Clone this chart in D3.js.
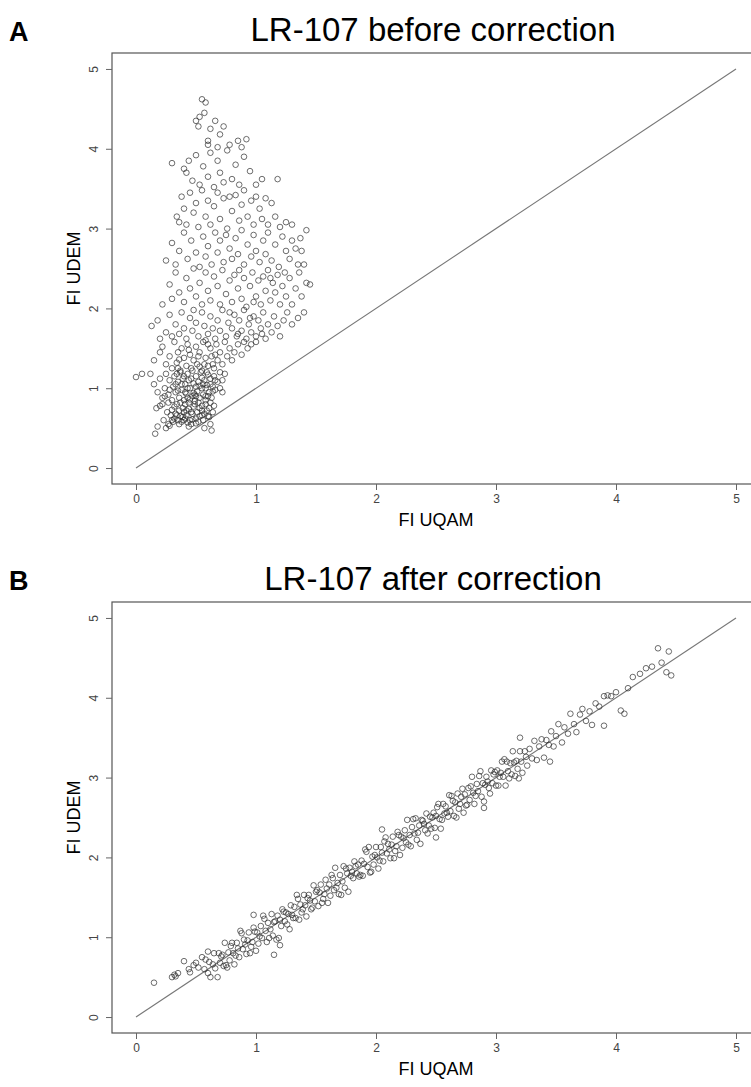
<!DOCTYPE html>
<html>
<head>
<meta charset="utf-8">
<script src="https://cdn.jsdelivr.net/npm/d3@7/dist/d3.min.js"></script>
<style>
  body { margin: 0; background: #fff; }
  svg { display: block; }
  text { font-family: "Liberation Sans", Arial, Helvetica, sans-serif; }
</style>
</head>
<body>
<svg id="chart" width="751" height="1087"></svg>
<script>
// Axis ticks shared by both panels (FI units)
const ticks = [0, 1, 2, 3, 4, 5];
const panelTitles = ["LR-107 before correction", "LR-107 after correction"];
const panelLetters = ["A", "B"];
const xTitle = "FI UQAM";
const yTitle = "FI UDEM";

// Reference line y = x
const identity = [[0, 0], [5, 5]];

// [FI UQAM, FI UDEM] per sample, before correction
const before = [
  [0.16,0.43],[0.18,0.52],[0.17,0.75],[0.2,0.78],[0.22,0.8],[0.25,0.5],[0.27,0.55],[0.28,0.53],[0.3,0.6],[0.32,0.62],
  [0.33,0.68],[0.35,0.6],[0.36,0.72],[0.37,0.65],[0.38,0.58],[0.39,0.75],[0.4,0.7],[0.41,0.62],[0.42,0.66],[0.43,0.57],
  [0.44,0.74],[0.45,0.6],[0.46,0.55],[0.47,0.68],[0.48,0.77],[0.5,0.62],[0.51,0.7],[0.52,0.58],[0.53,0.75],[0.55,0.72],
  [0.56,0.6],[0.57,0.5],[0.58,0.8],[0.6,0.65],[0.61,0.75],[0.63,0.47],[0.64,0.7],[0.65,0.78],[0.34,0.8],[0.3,0.73],
  [0.26,0.7],[0.41,0.8],[0.49,0.8],[0.44,0.52],[0.36,0.55],[0.53,0.65],[0.59,0.72],[0.62,0.55],[0.29,0.66],[0.23,0.6],
  [0.39,0.64],[0.47,0.61],[0.55,0.78],[0.32,0.77],[0.42,0.72],[0.5,0.56],
  [0.31,0.58],[0.34,0.66],[0.37,0.82],[0.4,0.6],[0.43,0.88],[0.46,0.7],[0.49,0.92],[0.52,0.82],[0.55,0.66],[0.58,0.9],
  [0.61,0.64],[0.64,0.96],[0.38,1.05],[0.44,1.1],[0.5,0.9],[0.56,1.05],[0.62,0.82],[0.66,1.1],[0.35,1.25],[0.47,1.22],
  [0.53,1.27],[0.59,1.2],[0.64,1.3],[0.7,1.0],[0.72,0.95],[0.27,0.82],[0.24,0.9],[0.33,1.05],[0.41,0.95],[0.57,0.68],
  [0.0,1.14],[0.05,1.18],[0.12,1.18],[0.15,1.05],[0.18,0.95],[0.2,1.12],[0.22,0.88],[0.24,1.0],[0.25,1.18],[0.27,0.92],
  [0.28,1.1],[0.3,0.85],[0.31,1.02],[0.32,1.15],[0.33,0.95],[0.35,1.08],[0.36,0.88],[0.37,1.2],[0.38,0.98],[0.39,1.12],
  [0.4,0.85],[0.41,1.05],[0.42,0.93],[0.43,1.18],[0.44,0.82],[0.45,1.0],[0.46,1.12],[0.47,0.9],[0.48,1.06],[0.49,0.84],
  [0.5,1.15],[0.51,0.96],[0.52,1.08],[0.53,0.88],[0.54,1.2],[0.55,1.0],[0.56,0.92],[0.57,1.1],[0.58,0.85],[0.59,1.04],
  [0.6,1.17],[0.61,0.95],[0.62,1.12],[0.63,0.88],[0.64,1.02],[0.65,1.15],[0.66,0.98],[0.68,1.08],[0.7,1.2],[0.72,1.1],
  [0.74,1.18],[0.35,0.97],[0.4,1.15],[0.45,0.86],[0.5,1.02],[0.55,1.13],[0.6,0.9],[0.58,1.0],[0.62,1.05],[0.28,0.98],
  [0.34,1.18],[0.43,1.0],[0.48,0.94],[0.53,1.03],
  [0.15,1.35],[0.2,1.45],[0.22,1.52],[0.25,1.3],[0.28,1.4],[0.3,1.25],[0.32,1.58],[0.34,1.32],[0.35,1.45],[0.37,1.22],
  [0.38,1.5],[0.4,1.38],[0.42,1.28],[0.43,1.55],[0.45,1.42],[0.46,1.25],[0.48,1.35],[0.5,1.52],[0.51,1.3],[0.53,1.45],
  [0.55,1.22],[0.56,1.58],[0.58,1.38],[0.6,1.28],[0.62,1.5],[0.63,1.4],[0.65,1.25],[0.67,1.55],[0.68,1.35],[0.7,1.45],
  [0.72,1.3],[0.74,1.58],[0.76,1.4],[0.78,1.5],[0.8,1.35],[0.82,1.45],[0.85,1.55],[0.88,1.42],[0.9,1.58],[0.93,1.5],
  [0.96,1.55],[1.0,1.58],[0.52,1.4],[0.6,1.55],[0.66,1.42],[0.44,1.48],[0.36,1.36],[0.57,1.3],
  [0.13,1.78],[0.18,1.85],[0.2,1.62],[0.25,1.7],[0.28,1.92],[0.3,1.65],[0.33,1.8],[0.36,1.68],[0.38,1.95],[0.4,1.75],
  [0.42,1.62],[0.45,1.88],[0.47,1.72],[0.5,1.82],[0.52,1.65],[0.55,1.95],[0.57,1.78],[0.6,1.68],[0.62,1.9],[0.64,1.75],
  [0.66,1.62],[0.68,1.85],[0.7,1.72],[0.72,1.98],[0.75,1.65],[0.77,1.82],[0.8,1.75],[0.82,1.92],[0.84,1.65],[0.86,1.85],
  [0.88,1.72],[0.9,1.98],[0.92,1.62],[0.94,1.8],[0.96,1.7],[0.98,1.9],[1.0,1.65],[1.02,1.85],[1.04,1.75],[1.06,1.95],
  [1.08,1.62],[1.1,1.8],[1.13,1.7],[1.15,1.9],[1.18,1.78],[1.2,1.65],[1.23,1.85],[1.26,1.95],[1.3,1.8],[1.35,1.88],
  [1.4,1.95],[0.85,1.68],[0.95,1.88],[1.05,1.68],[0.78,1.95],[0.58,1.6],[0.48,1.98],
  [0.22,2.05],[0.28,2.3],[0.3,2.12],[0.33,2.45],[0.36,2.2],[0.4,2.08],[0.42,2.38],[0.45,2.25],[0.48,2.5],[0.5,2.15],
  [0.53,2.32],[0.55,2.05],[0.58,2.45],[0.6,2.22],[0.62,2.1],[0.65,2.4],[0.68,2.28],[0.7,2.05],[0.72,2.48],[0.75,2.18],
  [0.78,2.35],[0.8,2.08],[0.82,2.42],[0.85,2.25],[0.88,2.12],[0.9,2.38],[0.92,2.02],[0.95,2.28],[0.97,2.45],[1.0,2.15],
  [1.02,2.35],[1.04,2.05],[1.06,2.4],[1.08,2.22],[1.1,2.48],[1.12,2.1],[1.14,2.32],[1.16,2.2],[1.18,2.42],[1.2,2.05],
  [1.22,2.28],[1.25,2.15],[1.28,2.38],[1.3,2.05],[1.33,2.25],[1.36,2.45],[1.38,2.15],[1.42,2.32],[1.45,2.3],[1.12,2.38],
  [0.98,2.08],[0.86,2.48],[1.24,2.45],
  [0.25,2.6],[0.3,2.82],[0.33,2.55],[0.36,2.72],[0.4,2.95],[0.43,2.62],[0.46,2.85],[0.5,2.7],[0.53,2.52],[0.56,2.9],
  [0.58,2.65],[0.6,2.78],[0.63,2.55],[0.66,2.95],[0.68,2.7],[0.7,2.85],[0.73,2.58],[0.75,2.92],[0.78,2.75],[0.8,2.62],
  [0.83,2.88],[0.85,2.68],[0.88,2.98],[0.9,2.55],[0.93,2.8],[0.96,2.65],[0.98,2.92],[1.0,2.72],[1.03,2.58],[1.06,2.85],
  [1.08,2.68],[1.1,2.95],[1.13,2.6],[1.16,2.8],[1.19,2.52],[1.22,2.9],[1.25,2.72],[1.28,2.62],[1.3,2.85],[1.33,2.75],
  [1.35,2.55],[1.37,2.88],[1.4,2.55],[1.42,2.98],[1.38,2.72],
  [0.34,3.15],[0.36,3.08],[0.38,3.4],[0.4,3.25],[0.42,3.05],[0.45,3.45],[0.48,3.2],[0.5,3.32],[0.52,3.02],[0.55,3.48],
  [0.58,3.15],[0.6,3.35],[0.62,3.05],[0.65,3.28],[0.68,3.45],[0.7,3.12],[0.73,3.38],[0.76,3.0],[0.8,3.22],[0.83,3.42],
  [0.86,3.1],[0.88,3.3],[0.9,3.48],[0.93,3.15],[0.96,3.35],[0.98,3.05],[1.0,3.4],[1.03,3.25],[1.05,3.12],[1.08,3.38],
  [1.1,3.05],[1.13,3.32],[1.16,3.15],[1.2,3.02],[1.25,3.08],[1.3,3.05],[0.78,3.4],
  [0.3,3.82],[0.4,3.75],[0.42,3.7],[0.44,3.85],[0.47,3.6],[0.5,3.92],[0.53,3.55],[0.56,3.78],[0.6,3.65],[0.62,3.95],
  [0.65,3.52],[0.68,3.85],[0.7,3.7],[0.73,3.58],[0.76,3.98],[0.8,3.62],[0.83,3.8],[0.86,3.55],[0.9,3.9],[0.95,3.72],
  [1.0,3.55],[1.05,3.62],[1.18,3.62],[0.88,4.02],
  [0.5,4.35],[0.52,4.28],[0.53,4.4],[0.55,4.62],[0.58,4.58],[0.57,4.45],[0.6,4.1],[0.62,4.25],[0.66,4.35],[0.7,4.18],
  [0.73,4.28],[0.78,4.05],[0.85,4.1],[0.92,4.12],[0.68,4.02],[0.6,4.05]
];

// [FI UQAM, FI UDEM] per sample, after correction
const after = [
  [0.15,0.43],[0.3,0.5],[0.32,0.53],[0.33,0.51],[0.35,0.55],[0.4,0.7],[0.44,0.6],[0.45,0.56],[0.48,0.65],[0.5,0.68],
  [0.52,0.62],[0.55,0.75],[0.57,0.6],[0.58,0.72],[0.6,0.55],[0.6,0.82],
  [0.61,0.69],[0.62,0.5],[0.64,0.66],[0.65,0.8],[0.66,0.61],[0.68,0.5],[0.69,0.8],[0.7,0.68],[0.72,0.78],[0.73,0.64],
  [0.74,0.93],[0.76,0.62],[0.77,0.81],[0.78,0.71],[0.8,0.93],[0.81,0.8],[0.82,0.66],[0.84,0.93],[0.85,0.86],[0.86,0.75],
  [0.88,1.05],[0.89,0.85],[0.9,0.97],[0.92,0.79],[0.93,0.96],[0.94,1.06],[0.96,0.88],[0.97,0.94],[0.98,1.12],[1.0,0.83],
  [1.01,1.06],[1.02,0.92],[1.04,1.14],[1.05,0.99],[1.06,1.27],[1.08,1.08],[1.09,0.94],[1.1,1.18],[1.12,1.1],[1.13,1.29],
  [1.14,1.02],[1.16,1.2],[1.17,0.97],[1.18,1.27],[1.2,1.22],[1.21,1.14],[1.22,1.35],[1.24,1.2],[1.25,1.31],[1.26,1.16],
  [1.28,1.1],[1.29,1.4],[1.3,1.28],[1.32,1.38],[1.33,1.24],[1.34,1.53],[1.36,1.22],[1.37,1.41],[1.38,1.31],[1.4,1.53],
  [1.41,1.4],[1.42,1.26],[1.44,1.53],[1.45,1.46],[1.46,1.35],[1.48,1.65],[1.49,1.45],[1.5,1.57],[1.52,1.39],[1.53,1.56],
  [1.54,1.66],[1.56,1.48],[1.57,1.54],[1.58,1.72],[1.6,1.43],[1.61,1.66],[1.62,1.52],[1.64,1.74],[1.65,1.59],[1.66,1.87],
  [1.68,1.68],[1.69,1.54],[1.7,1.78],[1.72,1.7],[1.73,1.89],[1.74,1.62],[1.76,1.8],[1.77,1.57],[1.78,1.87],[1.8,1.82],
  [1.81,1.74],[1.82,1.95],[1.84,1.8],[1.85,1.91],[1.86,1.76],[1.88,1.96],[1.89,1.77],[1.9,1.92],[1.92,2.07],[1.93,1.88],
  [1.94,2.13],[1.96,1.82],[1.97,2.01],[1.98,1.91],[2.0,2.13],[2.01,2.0],[2.02,1.86],[2.04,2.13],[2.05,2.06],[2.06,1.95],
  [2.08,2.25],[2.09,2.05],[2.1,2.17],[2.12,1.99],[2.13,2.16],[2.14,2.26],[2.16,2.08],[2.17,2.14],[2.18,2.32],[2.2,2.03],
  [2.21,2.26],[2.22,2.12],[2.24,2.34],[2.25,2.19],[2.26,2.47],[2.28,2.28],[2.29,2.14],[2.3,2.38],[2.32,2.3],[2.33,2.49],
  [2.34,2.22],[2.36,2.4],[2.37,2.17],[2.38,2.47],[2.4,2.42],[2.41,2.34],[2.42,2.55],[2.44,2.4],[2.45,2.51],[2.46,2.36],
  [2.48,2.56],[2.49,2.37],[2.5,2.52],[2.52,2.67],[2.53,2.48],[2.54,2.36],[2.56,2.67],[2.57,2.55],[2.58,2.64],[2.6,2.51],
  [2.61,2.78],[2.62,2.58],[2.64,2.71],[2.65,2.52],[2.66,2.69],[2.68,2.8],[2.69,2.61],[2.7,2.67],[2.72,2.86],[2.73,2.56],
  [2.74,2.79],[2.76,2.66],[2.77,2.87],[2.78,2.72],[2.8,3.01],[2.81,2.81],[2.82,2.67],[2.84,2.92],[2.85,2.83],[2.86,3.02],
  [2.88,2.76],[2.89,2.93],[2.9,2.7],[2.92,3.01],[2.93,2.95],[2.94,2.87],[2.96,3.09],[2.97,2.93],[2.98,3.04],[3.0,2.9],
  [3.01,3.09],[3.02,2.9],[3.04,3.06],[3.05,3.2],[3.06,3.01],[3.08,2.9],[3.09,3.2],[3.1,3.08],[3.12,3.18],[3.13,3.04],
  [3.14,3.33],[3.16,3.02],[3.17,3.21],[3.18,3.11],[3.2,3.33],[3.21,3.2],[3.22,3.06],[3.24,3.33],[3.25,3.26],[3.26,3.15],
  [3.28,3.36],[3.3,3.24],[3.32,3.46],[3.34,3.22],[3.36,3.39],[3.38,3.48],[3.4,3.25],[3.42,3.47],[3.44,3.41],[3.46,3.58],
  [3.48,3.39],[3.5,3.52],[3.52,3.67],[3.55,3.44],[3.57,3.63],[3.6,3.55],[3.62,3.8],[3.65,3.67],[3.67,3.57],[3.7,3.79],
  [3.72,3.86],[3.75,3.71],[3.78,3.83],[3.8,3.66],[3.83,3.93],[3.86,3.89],[3.9,4.02],[3.93,4.03],[3.96,4.02],[4.0,4.07],
  [4.04,3.84],[4.07,3.8],[4.1,4.12],[4.14,4.26],[4.2,4.3],[4.25,4.37],[4.3,4.39],[4.35,4.62],[4.38,4.44],[4.44,4.58],
  [4.42,4.32],[4.46,4.28],
  [0.71,0.76],[0.75,0.65],[0.79,0.89],[0.83,0.77],[0.87,1.08],[0.91,0.91],[0.95,0.8],[0.99,1.07],[1.03,1.01],[1.07,1.23],
  [1.11,0.99],[1.15,1.19],[1.19,0.99],[1.23,1.32],[1.27,1.29],[1.31,1.24],[1.35,1.48],[1.39,1.35],[1.43,1.49],[1.47,1.37],
  [1.51,1.59],[1.55,1.43],[1.59,1.61],[1.63,1.78],[1.67,1.62],[1.71,1.53],[1.75,1.86],[1.79,1.77],[1.83,1.89],[1.87,1.78],
  [1.91,2.1],[1.95,1.81],[1.99,2.03],[2.03,1.96],[2.07,2.2],[2.11,2.1],[2.15,1.99],[2.19,2.28],[2.23,2.24],[2.27,2.16],
  [2.31,2.48],[2.35,2.31],[2.39,2.46],[2.43,2.3],[2.47,2.5],[2.51,2.63],[2.55,2.47],[2.59,2.56],[2.63,2.77],[2.67,2.5],
  [2.71,2.76],[2.75,2.65],[2.79,2.89],[2.83,2.77],[2.87,3.08],[2.91,2.91],[2.95,2.8],[2.99,3.07],[3.03,3.01],[3.07,3.23],
  [3.11,2.99],[3.15,3.19],[3.19,2.99],
  [1.15,0.78],[1.2,0.9],[2.05,2.35],[2.5,2.25],[3.2,3.5],[3.45,3.2],[3.9,3.65],[0.98,1.28],[2.9,2.62]
];

const svg = d3.select("#chart");
svg.append("rect").attr("width", 751).attr("height", 1087).attr("fill", "#fff");

// Plot frame geometry (shared), R-style 4% padding around the 0–5 range
const frame = { left: 112, right: 760, height: 431 };
const panelTops = [53, 602];
const datasets = [before, after];

const x = d3.scaleLinear().domain([-0.2, 5.2]).range([frame.left, frame.right]);

panelTops.forEach((top, i) => {
  const bottom = top + frame.height;
  const y = d3.scaleLinear().domain([-0.2, 5.2]).range([bottom, top]);
  const g = svg.append("g");

  // panel letter and title
  g.append("text")
    .attr("x", 9).attr("y", top - 12)
    .attr("font-size", 27).attr("font-weight", "bold").attr("fill", "#000")
    .text(panelLetters[i]);
  g.append("text")
    .attr("x", x(2.5) - 3).attr("y", top - 12)
    .attr("text-anchor", "middle")
    .attr("font-size", 33).attr("fill", "#000")
    .text(panelTitles[i]);

  // points (clipped to the frame)
  const clipId = "clip" + i;
  g.append("clipPath").attr("id", clipId)
    .append("rect").attr("x", frame.left).attr("y", top)
    .attr("width", frame.right - frame.left).attr("height", frame.height);

  const plot = g.append("g").attr("clip-path", `url(#${clipId})`);

  plot.append("path")
    .datum(identity)
    .attr("d", d3.line().x(d => x(d[0])).y(d => y(d[1])))
    .attr("fill", "none")
    .attr("stroke", "#777")
    .attr("stroke-width", 1.1);

  plot.selectAll("circle")
    .data(datasets[i])
    .join("circle")
    .attr("cx", d => x(d[0]))
    .attr("cy", d => y(d[1]))
    .attr("r", 2.8)
    .attr("fill", "none")
    .attr("stroke", "#2a2a2a")
    .attr("stroke-opacity", 0.72)
    .attr("stroke-width", 0.95);

  // frame
  g.append("rect")
    .attr("x", frame.left).attr("y", top)
    .attr("width", frame.right - frame.left).attr("height", frame.height)
    .attr("fill", "none").attr("stroke", "#555").attr("stroke-width", 1.2);

  // x axis
  const xa = g.append("g")
    .attr("transform", `translate(0,${bottom})`)
    .call(d3.axisBottom(x).tickValues(ticks).tickSize(6).tickPadding(4).tickFormat(d3.format("d")));
  xa.select(".domain").remove();
  xa.selectAll("line").attr("stroke", "#666");
  xa.selectAll("text").attr("font-size", 12).attr("fill", "#444")
    .style("font-family", "'Liberation Sans', Arial, sans-serif");

  // y axis with labels parallel to the axis
  const ya = g.append("g")
    .attr("transform", `translate(${frame.left},0)`)
    .call(d3.axisLeft(y).tickValues(ticks).tickSize(6).tickFormat(d3.format("d")));
  ya.select(".domain").remove();
  ya.selectAll("line").attr("stroke", "#666");
  ya.selectAll("text")
    .attr("x", null).attr("dy", null)
    .attr("transform", "translate(-14,0) rotate(-90)")
    .attr("text-anchor", "middle")
    .attr("font-size", 12).attr("fill", "#444")
    .style("font-family", "'Liberation Sans', Arial, sans-serif");

  // axis titles
  g.append("text")
    .attr("x", x(2.5)).attr("y", bottom + 42)
    .attr("text-anchor", "middle")
    .attr("font-size", 18).attr("fill", "#000")
    .text(xTitle);
  g.append("text")
    .attr("transform", `translate(80,${(top + bottom) / 2}) rotate(-90)`)
    .attr("text-anchor", "middle")
    .attr("font-size", 18).attr("fill", "#000")
    .text(yTitle);
});
</script>
</body>
</html>
